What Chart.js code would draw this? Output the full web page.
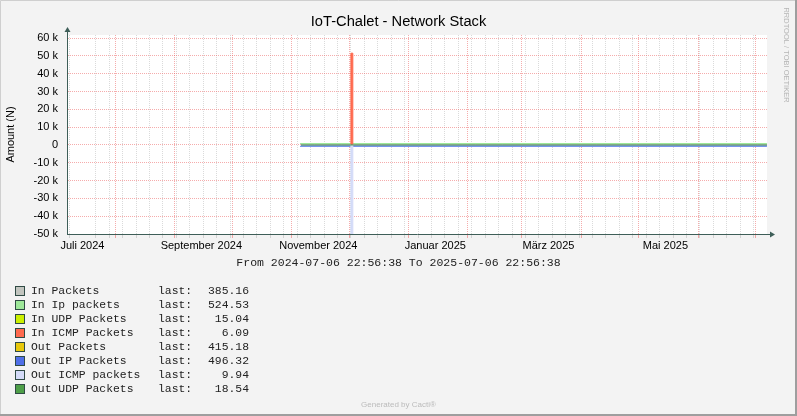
<!DOCTYPE html>
<html>
<head>
<meta charset="utf-8">
<script src="https://cdn.jsdelivr.net/npm/chart.js@4/dist/chart.umd.min.js"></script>
<style>
  html, body { margin: 0; padding: 0; background: #F3F3F3; }
  #wrap { width: 797px; height: 416px; }
</style>
</head>
<body>
<div id="wrap"><canvas id="myChart" width="797" height="416"></canvas></div>
<script>
// time range shown
const rangeStart = '2024-07-06T22:56:38Z';
const rangeEnd = '2025-07-06T22:56:38Z';

// sample dates (one value per series per date)
const dates = [
    '2024-11-06', '2024-11-13', '2024-11-20', '2024-11-27', '2024-12-02', '2024-12-03',
    '2024-12-04', '2024-12-11', '2024-12-18', '2024-12-25', '2025-01-01', '2025-01-08',
    '2025-01-15', '2025-01-22', '2025-01-29', '2025-02-05', '2025-02-12', '2025-02-19',
    '2025-02-26', '2025-03-05', '2025-03-12', '2025-03-19', '2025-03-26', '2025-04-02',
    '2025-04-09', '2025-04-16', '2025-04-23', '2025-04-30', '2025-05-07', '2025-05-14',
    '2025-05-21', '2025-05-28', '2025-06-04', '2025-06-11', '2025-06-18', '2025-06-25',
    '2025-07-02', '2025-07-06T22:00'
];

const inPackets = [372, 390, 381, 395, 388, 402, 384, 379, 386, 393, 370, 382, 389, 377, 391, 384, 380, 396, 388, 375, 383, 390, 379, 386, 392, 381, 377, 388, 384, 390, 379, 385, 387, 382, 376, 389, 383, 385];
const inIpPackets = [510, 532, 518, 540, 526, 545, 522, 515, 528, 536, 505, 520, 531, 512, 534, 525, 519, 538, 527, 511, 523, 533, 516, 526, 535, 521, 514, 529, 524, 532, 517, 525, 528, 521, 513, 530, 522, 525];
const inUdpPackets = [14, 16, 15, 17, 15, 18, 15, 14, 16, 15, 13, 15, 16, 14, 16, 15, 15, 17, 15, 14, 15, 16, 14, 15, 16, 15, 14, 16, 15, 16, 14, 15, 15, 15, 14, 16, 15, 15];
const inIcmpPackets = [6, 7, 6, 6, 7, 51500, 6, 6, 7, 6, 5, 6, 7, 6, 6, 6, 6, 7, 6, 5, 6, 7, 6, 6, 7, 6, 5, 6, 6, 7, 6, 6, 6, 6, 5, 7, 6, 6];
const outPackets = [-405, -420, -412, -428, -416, -431, -410, -404, -418, -424, -398, -411, -422, -407, -425, -414, -409, -427, -417, -401, -413, -423, -406, -416, -426, -411, -403, -419, -414, -422, -408, -415, -417, -412, -404, -420, -413, -415];
const outIpPackets = [-485, -502, -490, -510, -497, -515, -492, -484, -499, -506, -478, -491, -503, -487, -507, -495, -489, -509, -498, -481, -494, -504, -486, -497, -508, -492, -483, -500, -495, -503, -488, -496, -498, -493, -484, -501, -494, -496];
const outIcmpPackets = [-10, -11, -9, -10, -11, -51000, -10, -9, -11, -10, -8, -10, -11, -9, -10, -10, -9, -11, -10, -9, -10, -11, -9, -10, -11, -10, -9, -10, -10, -11, -9, -10, -10, -10, -9, -11, -10, -10];
const outUdpPackets = [-17, -19, -18, -20, -18, -21, -18, -17, -19, -18, -16, -18, -19, -17, -19, -18, -18, -20, -18, -17, -18, -19, -17, -18, -19, -18, -17, -19, -18, -19, -17, -18, -19, -18, -17, -19, -18, -19];

const seriesNames = ['In Packets', 'In Ip packets', 'In UDP Packets', 'In ICMP Packets', 'Out Packets', 'Out IP Packets', 'Out ICMP packets', 'Out UDP Packets'];
const lastValues = ['385.16', '524.53', '15.04', '6.09', '415.18', '496.32', '9.94', '18.54'];
const seriesColors = ['#C2C5BF', '#9EE89A', '#CCF000', '#FF6A4F', '#E8C80C', '#4F6FE8', '#D4DBF8', '#4E9F48'];
// outline width per series (0 = fill only)
const seriesEdge = [0, 2, 0, 1, 0, 2, 1, 1];

// x axis labels (centred mid-month) and month grid lines
const labelDates = ['2024-07-15', '2024-09-15', '2024-11-15', '2025-01-15', '2025-03-15', '2025-05-15'];
const labelTexts = ['Juli 2024', 'September 2024', 'November 2024', 'Januar 2025', 'März 2025', 'Mai 2025'];
const monthDates = ['2024-08-01', '2024-09-01', '2024-10-01', '2024-11-01', '2024-12-01', '2025-01-01',
    '2025-02-01', '2025-03-01', '2025-04-01', '2025-05-01', '2025-06-01', '2025-07-01'];
const firstWeek = '2024-07-08';

// y axis
const yMin = -50000;
const yMax = 61700;
const yStep = 5000;

const t = s => Date.parse(s.length === 10 ? s + 'T00:00:00Z' : (s.endsWith('Z') ? s : s + 'Z'));
const xMin = t(rangeStart), xMax = t(rangeEnd);
const DAY = 86400000;

const RED_GRID = 'rgba(235, 90, 90, 0.5)';
const GRAY_GRID = 'rgba(150, 150, 150, 0.35)';
const AXIS = '#3E5E58';

const tickKind = new Map();
for (let v = t(firstWeek); v < xMax; v += 7 * DAY) tickKind.set(v, 'week');
monthDates.forEach(d => tickKind.set(t(d), 'month'));
labelDates.forEach((d, i) => tickKind.set(t(d), 'label' + i));
const xTickValues = [...tickKind.keys()].sort((a, b) => a - b);

function gridColorX(c) {
    const k = c.tick ? tickKind.get(c.tick.value) : null;
    if (k === 'month') return RED_GRID;
    if (k === 'week') return GRAY_GRID;
    return 'rgba(0,0,0,0)';
}

const seriesData = [inPackets, inIpPackets, inUdpPackets, inIcmpPackets, outPackets, outIpPackets, outIcmpPackets, outUdpPackets];

const datasets = seriesData.map((vals, i) => {
    const isLine = i === 7;
    return {
        label: seriesNames[i],
        data: dates.map((d, j) => ({ x: t(d), y: vals[j] })),
        borderColor: seriesEdge[i] ? seriesColors[i] : 'rgba(0,0,0,0)',
        backgroundColor: seriesColors[i],
        borderWidth: seriesEdge[i],
        fill: isLine ? false : 'origin',
        stepped: 'after',
        pointRadius: 0,
        order: 8 - i
    };
});

const frame = {
    id: 'frame',
    beforeDraw(chart) {
        const { ctx, chartArea: a } = chart;
        ctx.save();
        ctx.fillStyle = '#F3F3F3';
        ctx.fillRect(0, 0, 797, 416);
        ctx.fillStyle = '#FFFFFF';
        ctx.fillRect(a.left, a.top, a.right - a.left, a.bottom - a.top);
        ctx.lineWidth = 1;
        ctx.strokeStyle = '#CFCFCF';
        ctx.beginPath();
        ctx.moveTo(0.5, 415); ctx.lineTo(0.5, 0.5); ctx.lineTo(796, 0.5);
        ctx.stroke();
        ctx.strokeStyle = '#9E9E9E';
        ctx.lineWidth = 2;
        ctx.beginPath();
        ctx.moveTo(796, 0); ctx.lineTo(796, 415); ctx.lineTo(0, 415);
        ctx.stroke();
        ctx.restore();
    },
    afterDraw(chart) {
        const { ctx, chartArea: a } = chart;
        ctx.save();
        // axis arrows
        ctx.strokeStyle = AXIS;
        ctx.fillStyle = AXIS;
        ctx.lineWidth = 1;
        ctx.beginPath();
        ctx.moveTo(a.left + 0.5, a.top); ctx.lineTo(a.left + 0.5, a.top - 4);
        ctx.moveTo(a.right, a.bottom + 0.5); ctx.lineTo(a.right + 4, a.bottom + 0.5);
        ctx.stroke();
        ctx.beginPath();
        ctx.moveTo(a.left - 2.5, a.top - 3); ctx.lineTo(a.left + 3.5, a.top - 3); ctx.lineTo(a.left + 0.5, a.top - 8);
        ctx.closePath(); ctx.fill();
        ctx.beginPath();
        ctx.moveTo(a.right + 3, a.bottom - 2.5); ctx.lineTo(a.right + 3, a.bottom + 3.5); ctx.lineTo(a.right + 8, a.bottom + 0.5);
        ctx.closePath(); ctx.fill();

        // title
        ctx.fillStyle = '#000';
        ctx.textAlign = 'center';
        ctx.textBaseline = 'middle';
        ctx.font = '14.7px "Liberation Sans", Arial, sans-serif';
        ctx.fillText('IoT-Chalet - Network Stack', 398.5, 22);

        // period line
        ctx.font = '11.5px "Liberation Mono", monospace';
        ctx.fillStyle = '#222';
        ctx.fillText('From 2024-07-06 22:56:38 To 2025-07-06 22:56:38', 398.5, 263);

        // legend
        ctx.font = '11.4px "Liberation Mono", monospace';
        seriesNames.forEach((name, i) => {
            const y = 291 + i * 14;
            ctx.fillStyle = seriesColors[i];
            ctx.fillRect(16, y - 4, 8, 8);
            ctx.strokeStyle = '#2F4A44';
            ctx.strokeRect(15.5, y - 4.5, 9, 9);
            ctx.fillStyle = '#222';
            ctx.textAlign = 'left';
            ctx.fillText(name, 31, y);
            ctx.fillText('last:', 158, y);
            ctx.textAlign = 'right';
            ctx.fillText(lastValues[i], 249, y);
        });

        // footer
        ctx.textAlign = 'center';
        ctx.fillStyle = '#BBBBBB';
        ctx.font = '8px "Liberation Sans", Arial, sans-serif';
        ctx.fillText('Generated by Cacti®', 398.5, 405);

        // watermark
        ctx.translate(786, 55);
        ctx.rotate(Math.PI / 2);
        ctx.fillStyle = '#B5B5B5';
        ctx.font = '7.5px "Liberation Sans", Arial, sans-serif';
        ctx.fillText('RRDTOOL / TOBI OETIKER', 0, 0);
        ctx.restore();
    }
};

Chart.defaults.font.family = '"Liberation Sans", Arial, sans-serif';
Chart.defaults.font.size = 11;
Chart.defaults.color = '#000';

const ctx = document.querySelector('#myChart');
const myChart = new Chart(ctx, {
    type: 'line',
    data: { datasets: datasets },
    options: {
        responsive: false,
        animation: false,
        devicePixelRatio: 1,
        layout: { padding: { left: 0, top: 35, right: 30, bottom: 0 } },
        plugins: {
            legend: { display: false },
            tooltip: { enabled: false },
            title: { display: false }
        },
        scales: {
            x: {
                type: 'linear',
                min: xMin,
                max: xMax,
                afterBuildTicks: s => { s.ticks = xTickValues.map(v => ({ value: v })); },
                afterFit: s => { s.height = 182; },
                ticks: {
                    autoSkip: false,
                    maxRotation: 0,
                    padding: 1,
                    color: '#000',
                    callback: v => {
                        const k = tickKind.get(v);
                        return k && k.startsWith('label') ? labelTexts[+k.slice(5)] : '';
                    }
                },
                grid: {
                    color: gridColorX,
                    tickColor: gridColorX,
                    tickLength: 4,
                    lineWidth: 1
                },
                border: { display: true, color: AXIS, width: 1, dash: [1, 1] }
            },
            y: {
                min: yMin,
                max: yMax,
                afterBuildTicks: s => {
                    const arr = [];
                    for (let v = yMin; v <= 60000; v += yStep) arr.push({ value: v });
                    s.ticks = arr;
                },
                afterFit: s => { s.width = 67; },
                ticks: {
                    padding: 9,
                    color: '#000',
                    callback: v => v % 10000 === 0 ? (v === 0 ? '0' : (v / 1000) + ' k') : ''
                },
                grid: {
                    drawTicks: false,
                    color: c => c.tick && c.tick.value % 10000 === 0 ? RED_GRID : GRAY_GRID,
                    lineWidth: 1
                },
                border: { display: true, color: AXIS, width: 1, dash: [1, 1] },
                title: {
                    display: true,
                    text: 'Amount (N)',
                    color: '#000',
                    font: { size: 11 },
                    padding: { top: 4, bottom: 0 }
                }
            }
        }
    },
    plugins: [frame]
});
</script>
</body>
</html>
